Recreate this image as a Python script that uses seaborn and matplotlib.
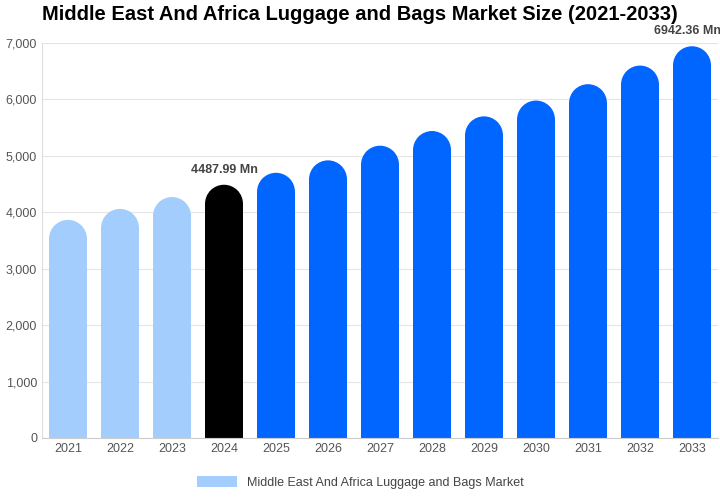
import matplotlib
matplotlib.use("Agg")
import matplotlib.pyplot as plt
import seaborn as sns
import pandas as pd
from matplotlib.patches import Ellipse, Patch

plt.rcParams["font.family"] = "Liberation Sans"

years = ["2021", "2022", "2023", "2024", "2025", "2026", "2027",
         "2028", "2029", "2030", "2031", "2032", "2033"]
values = [3865, 4060, 4270, 4487.99, 4700, 4920, 5180,
          5440, 5700, 5980, 6270, 6600, 6942.36]
bar_colors = ["#a3cdfd"] * 3 + ["#000000"] + ["#0066ff"] * 9
labels = {"2024": "4487.99 Mn", "2033": "6942.36 Mn"}

df = pd.DataFrame({"year": years, "value": values})

fig = plt.figure(figsize=(7.2, 5), dpi=100)
ax = fig.add_axes([42 / 720, 62 / 500, 676 / 720, 395 / 500])

bar_w = 0.73
sns.barplot(data=df, x="year", y="value", hue="year", palette=bar_colors,
            width=bar_w, legend=False, ax=ax, saturation=1)

ymax = 7000
ax.set_ylim(0, ymax)
ax.set_xlim(-0.5, len(years) - 0.5)

# rounded caps: radius in pixels -> data units
ax_h_px = 395
slot_px = 676 / len(years)
r_px = bar_w * slot_px / 2
r_data = r_px * ymax / ax_h_px

for patch, c in zip(ax.patches, bar_colors):
    h = patch.get_height()
    x = patch.get_x()
    w = patch.get_width()
    patch.set_height(h - r_data)
    ax.add_patch(Ellipse((x + w / 2, h - r_data), w, 2 * r_data,
                         facecolor=c, edgecolor="none", zorder=patch.get_zorder()))

for i, (yr, v) in enumerate(zip(years, values)):
    if yr in labels:
        ax.text(i - (0.08 if yr == "2033" else 0), v + 160, labels[yr],
                ha="center", va="bottom", fontsize=9, fontweight="bold",
                color="#444444")

ax.set_yticks(range(0, 7001, 1000))
ax.set_yticklabels([f"{t:,}" for t in range(0, 7001, 1000)])
ax.tick_params(axis="both", labelsize=9, colors="#555555", length=0)
ax.set_xlabel("")
ax.set_ylabel("")
ax.grid(axis="y", color="#e5e5e5", linewidth=0.8)
ax.set_axisbelow(True)
for s in ["top", "right"]:
    ax.spines[s].set_visible(False)
ax.spines["left"].set_color("#dddddd")
ax.spines["bottom"].set_color("#cccccc")

fig.suptitle("Middle East And Africa Luggage and Bags Market Size (2021-2033)",
             x=0.5, y=0.99, fontsize=14.5, fontweight="bold")

fig.legend(handles=[Patch(facecolor="#a3cdfd", label="Middle East And Africa Luggage and Bags Market")],
           loc="lower center", bbox_to_anchor=(0.5, 0.0), frameon=False,
           fontsize=9, handlelength=3.2, handleheight=0.9, labelcolor="#444444")

fig.savefig("out.png", dpi=100, facecolor="white")
